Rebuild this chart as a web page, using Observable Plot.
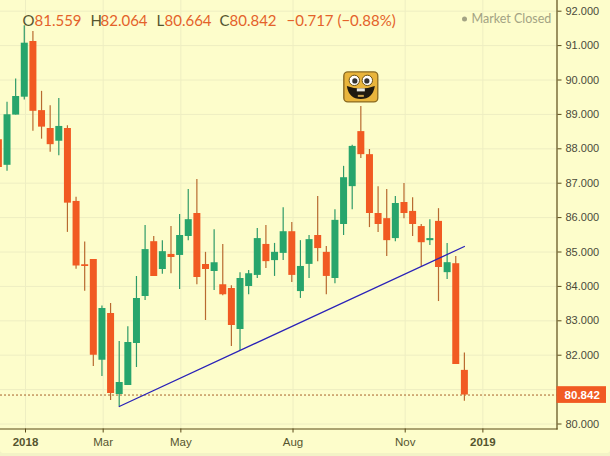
<!DOCTYPE html>
<html>
<head>
<meta charset="utf-8">
<script src="https://cdn.jsdelivr.net/npm/d3@7"></script>
<script src="https://cdn.jsdelivr.net/npm/@observablehq/plot@0.6"></script>
<style>
html,body{margin:0;padding:0;background:#f3f3c6;}
#chart{width:610px;height:453px;overflow:hidden;border-radius:0 0 4px 4px;background:#fdfdcb;}
svg{display:block;}
</style>
</head>
<body>
<div id="chart"></div>
<script>
const firstWeek = "2017-12-10";
const opens  = [88.26,87.52,88.98,89.50,91.12,89.11,88.59,88.22,88.59,86.47,84.63,84.78,81.85,83.21,80.86,81.12,82.34,83.71,85.30,84.49,84.93,84.90,85.45,86.12,84.64,84.43,84.05,83.94,82.75,84.00,84.32,85.22,84.75,84.96,85.59,83.85,84.64,85.48,84.99,84.23,85.80,86.90,88.50,87.83,86.12,85.97,85.39,86.44,86.18,85.74,85.33,85.89,84.40,84.66,81.559];
const highs  = [88.30,89.35,90.03,91.58,91.41,89.67,89.25,89.46,88.67,86.59,85.29,84.78,83.43,83.50,82.40,82.83,84.29,85.77,85.45,85.33,85.74,86.09,86.82,87.11,84.99,85.65,85.22,84.02,84.40,84.46,85.68,85.77,85.25,86.29,85.86,85.33,85.48,86.61,85.16,86.23,87.49,88.10,89.23,87.98,86.90,86.82,86.61,86.99,86.58,85.80,85.94,86.26,85.25,84.87,82.064];
const lows   = [87.40,87.35,88.98,89.42,88.51,88.28,87.90,87.80,85.57,84.50,83.86,81.67,81.38,80.68,80.51,81.12,81.64,83.59,84.29,84.35,84.37,83.91,85.33,84.05,83.01,83.88,83.73,82.25,82.14,83.76,84.23,84.52,84.29,84.75,84.11,83.65,84.23,84.72,83.76,84.08,85.48,86.23,87.72,85.71,85.57,84.87,85.30,85.97,85.45,84.58,85.19,83.56,84.20,81.73,80.664];
const closes = [87.46,88.99,89.52,91.07,89.09,88.63,88.12,88.65,86.42,84.59,84.58,82.00,83.36,80.89,81.21,82.37,83.65,85.07,84.29,85.01,84.84,85.48,85.94,84.26,84.49,84.69,83.76,82.86,84.23,84.37,85.39,84.72,84.99,85.59,84.32,84.58,85.36,85.10,84.29,85.92,87.16,88.07,87.83,86.12,85.80,85.33,86.41,86.12,85.80,85.27,85.39,84.55,84.69,81.73,80.842];

const gridTicks = [80,81,82,83,84,85,86,87,88,89,90,91,92];
const yLabelTicks = [80,82,83,84,85,86,87,88,89,90,91,92];
const yearTicks = ["2018-01-01","2019-01-07"];
const yearLabels = ["2018","2019"];
const monthTicks = ["2018-03-05","2018-05-07","2018-08-06","2018-11-05"];
const monthLabels = ["Mar","May","Aug","Nov"];
const trendDates = ["2018-03-18","2018-12-23"];
const trendValues = [80.51,85.16];
const lastClose = 80.842;
const iconDate = "2018-09-30";
const iconValue = 89.80;
const headerLetters = ["O","H","L","C"];
const headerValues = ["81.559","82.064","80.664","80.842"];
const headerChange = "−0.717 (−0.88%)";
const statusText = "Market Closed";

const RED="#f15a22", GREEN="#27a56c", RED_W="#b86a30", GREEN_W="#2f9a68", INK="#55552f", AXIS="#5a4a18", GRID="#eeeec2";
const D = s => new Date(s + "T00:00:00Z");
const candles = opens.map((o,i)=>({date:d3.utcDay.offset(D(firstWeek),7*i),o,h:highs[i],l:lows[i],c:closes[i],up:closes[i]>=o}));
const xDomain = [new Date(Date.UTC(2017,11,11,17)), new Date(Date.UTC(2019,2,8,3))];
const allXTicks = [...yearTicks,...monthTicks].map(D);

const iconSvg = `<svg xmlns="http://www.w3.org/2000/svg" viewBox="0 0 36 32"><rect x="1" y="1" width="34" height="30" rx="4" fill="#e9b53c" stroke="#8a6b22" stroke-width="1.4"/><circle cx="11.5" cy="9.5" r="5.2" fill="#fff" stroke="#6b5216"/><circle cx="24.5" cy="9.5" r="5.2" fill="#fff" stroke="#6b5216"/><circle cx="12" cy="10" r="2.6" fill="#333"/><circle cx="24" cy="10" r="2.6" fill="#333"/><path d="M4 15 Q18 20 32 15 Q30 28 18 28 Q6 28 4 15Z" fill="#1f1a10"/><rect x="14" y="17.5" width="8" height="3" fill="#e8e8e0"/><rect x="15" y="24" width="6" height="2" fill="#c9a04a"/></svg>`;
const iconSrc = "data:image/svg+xml," + encodeURIComponent(iconSvg);

const headerXs = [22,90,156,219], valueXs = [34,100,164,229];
const headerFont = {fontFamily:"Lato, sans-serif", fontSize:15, frameAnchor:"top-left", lineAnchor:"middle", textAnchor:"start", dy:20.5};

const plot = Plot.plot({
  width:610, height:453,
  marginLeft:0, marginRight:53.5, marginTop:0, marginBottom:24.5,
  style:{background:"#fdfdcb", fontFamily:"Liberation Sans, Arial, sans-serif", overflow:"hidden"},
  x:{type:"utc", domain:xDomain},
  y:{domain:[79.855,92.311], label:null},
  marks:[
    Plot.gridY(gridTicks,{stroke:GRID, strokeOpacity:1}),
    Plot.gridX(allXTicks,{stroke:GRID, strokeOpacity:1}),
    Plot.ruleY([lastClose],{stroke:"#a8602a", strokeDasharray:"2,2", strokeWidth:1}),
    Plot.ruleX(candles,{x:"date", y1:"l", y2:"h", stroke:d=>d.up?GREEN_W:RED_W, strokeWidth:1.2}),
    Plot.ruleX(candles,{x:"date", y1:"o", y2:"c", stroke:d=>d.up?GREEN:RED, strokeWidth:7}),
    Plot.line(trendDates.map((d,i)=>({d:D(d),v:trendValues[i]})),{x:"d", y:"v", stroke:"#2a22b8", strokeWidth:1.3}),
    Plot.image([{d:D(iconDate),v:iconValue}],{x:"d", y:"v", src:()=>iconSrc, width:36, height:32, preserveAspectRatio:"none"}),
    Plot.frame({anchor:"right", stroke:AXIS, strokeWidth:1.2}),
    Plot.frame({anchor:"bottom", stroke:AXIS, strokeWidth:1.2}),
    Plot.axisY(yLabelTicks,{anchor:"right", label:null, tickSize:4, tickPadding:4.5, stroke:AXIS, fill:"#4a4a3a", fontSize:11, tickFormat:d3.format(".3f")}),
    Plot.axisX(monthTicks.map(D),{anchor:"bottom", label:null, tickSize:4, tickPadding:5, stroke:AXIS, fill:INK, fontSize:11.5, tickFormat:d=>monthLabels[monthTicks.findIndex(t=>+D(t)===+d)]}),
    Plot.axisX(yearTicks.map(D),{anchor:"bottom", label:null, tickSize:4, tickPadding:5, stroke:AXIS, fill:INK, fontSize:11.5, fontWeight:"bold", tickFormat:d=>yearLabels[yearTicks.findIndex(t=>+D(t)===+d)]}),
    Plot.rect([lastClose],{x1:()=>xDomain[1], x2:()=>xDomain[1], y1:d=>d-0.243, y2:d=>d+0.243, fill:RED, insetRight:-49.5}),
    Plot.text([lastClose],{x:()=>xDomain[1], y:d=>d, text:d=>d.toFixed(3), dx:25.2, fill:"#fff", fontWeight:"bold", fontSize:11.5, fontFamily:"Liberation Sans, Arial, sans-serif"}),
    ...headerLetters.map((t,i)=>Plot.text([t],{...headerFont, text:d=>d, dx:headerXs[i], fill:INK})),
    ...headerValues.map((t,i)=>Plot.text([t],{...headerFont, text:d=>d, dx:valueXs[i], fill:"#e4622a", letterSpacing:"0.2px"})),
    Plot.text([headerChange],{...headerFont, text:d=>d, dx:286, fill:"#e4622a", letterSpacing:"0.2px"}),
    Plot.text([statusText],{frameAnchor:"top-left", dx:471, dy:18.5, lineAnchor:"middle", textAnchor:"start", text:d=>d, fill:"#a3a384", fontFamily:"Lato, sans-serif", fontSize:12.5, letterSpacing:"0.4px"}),
    Plot.dot([statusText],{frameAnchor:"top-left", dx:464, dy:18.5, r:2.5, fill:"#a3a384"})
  ]
});
document.getElementById("chart").appendChild(plot);
</script>
</body>
</html>
